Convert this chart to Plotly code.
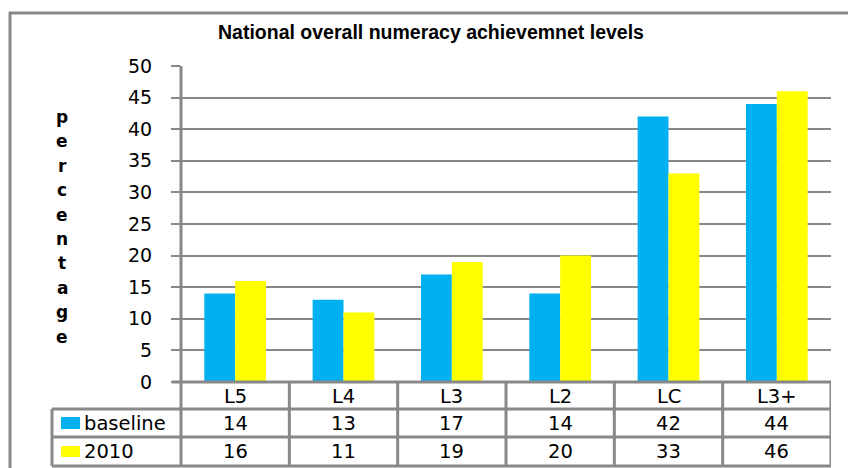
import plotly.graph_objects as go

categories = ["L5", "L4", "L3", "L2", "LC", "L3+"]
baseline = [14, 13, 17, 14, 42, 44]
y2010 = [16, 11, 19, 20, 33, 46]
series_names = ["baseline", "2010"]
colors = ["#00B0F0", "#FFFF00"]
title_text = "National overall numeracy achievemnet levels"
ytitle = "percentage"
tick_vals = [0, 5, 10, 15, 20, 25, 30, 35, 40, 45, 50]

W, H = 848, 468
GRID = "#888888"

def px(x):
    return x / W

def py(y):
    return 1 - y / H

y_zero, y_top = 382, 66
x_left, x_right = 181, 831

fig = go.Figure()
for name, vals, col in zip(series_names, [baseline, y2010], colors):
    fig.add_trace(go.Bar(x=categories, y=vals, name=name, marker=dict(color=col, line=dict(width=0))))

fig.update_layout(
    width=W, height=H, margin=dict(l=0, r=0, t=0, b=0, pad=0, autoexpand=False),
    paper_bgcolor="white", plot_bgcolor="white",
    barmode="group", bargap=0.43, bargroupgap=0,
    showlegend=False,
    xaxis=dict(domain=[px(x_left), px(x_right)], range=[-0.5, 5.5], automargin=False,
               showticklabels=False, showgrid=False, zeroline=False, ticks="",
               showline=False, fixedrange=True),
    yaxis=dict(domain=[py(y_zero), py(y_top)], range=[0, 50], tickvals=tick_vals, automargin=False,
               showgrid=True, gridcolor=GRID, gridwidth=2, zeroline=False,
               ticks="outside", ticklen=9, tickwidth=2, tickcolor=GRID,
               ticklabelstandoff=15,
               tickfont=dict(family="DejaVu Sans", size=19, color="black"),
               showline=False, fixedrange=True),
)

shapes = []
# outer frame: top and left edges (right/bottom fall outside the picture)
shapes.append(dict(type="line", xref="paper", yref="paper", x0=px(9), x1=px(852), y0=py(13), y1=py(13),
                   line=dict(color=GRID, width=3)))
shapes.append(dict(type="line", xref="paper", yref="paper", x0=px(10), x1=px(10), y0=py(12), y1=py(476),
                   line=dict(color=GRID, width=3)))
# y-axis line extending through the table
shapes.append(dict(type="line", xref="paper", yref="paper", x0=px(x_left), x1=px(x_left), y0=py(y_top), y1=py(466),
                   line=dict(color=GRID, width=3)))
# zero line
shapes.append(dict(type="line", xref="paper", yref="paper", x0=px(172), x1=px(x_right), y0=py(y_zero), y1=py(y_zero),
                   line=dict(color=GRID, width=3)))
# table horizontal lines
for yy in [409, 437, 466]:
    shapes.append(dict(type="line", xref="paper", yref="paper", x0=px(x_left), x1=px(x_right), y0=py(yy), y1=py(yy),
                       line=dict(color=GRID, width=3)))
    shapes.append(dict(type="line", xref="paper", yref="paper", x0=px(52), x1=px(x_left), y0=py(yy), y1=py(yy),
                       line=dict(color=GRID, width=3)))
shapes.append(dict(type="line", xref="paper", yref="paper", x0=px(52), x1=px(52), y0=py(409), y1=py(466),
                   line=dict(color=GRID, width=3)))
# table vertical dividers at category boundaries
for i in range(len(categories)):
    xb = i + 0.5
    shapes.append(dict(type="line", xref="x", yref="paper", x0=xb, x1=xb, y0=py(y_zero), y1=py(466),
                       line=dict(color=GRID, width=3)))
# legend keys
key_rows = [(417, 429), (446, 457)]
for (y0, y1), col in zip(key_rows, colors):
    shapes.append(dict(type="rect", xref="paper", yref="paper", x0=px(61), x1=px(80), y0=py(y1), y1=py(y0),
                       fillcolor=col, line=dict(width=0)))

annotations = []
annotations.append(dict(text="<b>" + title_text + "</b>", xref="paper", yref="paper", x=px(431), y=py(32),
                        xanchor="center", yanchor="middle", showarrow=False,
                        font=dict(family="Liberation Sans", size=19.5, color="black")))
for i, ch in enumerate(ytitle):
    annotations.append(dict(text="<b>" + ch + "</b>", xref="paper", yref="paper", x=px(62), y=py(117 + i * 24.4),
                            xanchor="center", yanchor="middle", showarrow=False,
                            font=dict(family="DejaVu Sans", size=17, color="black")))
tfont = dict(family="DejaVu Sans", size=19.5, color="black")
for c in categories:
    annotations.append(dict(text=c, xref="x", yref="paper", x=c, y=py(396), xanchor="center", yanchor="middle",
                            showarrow=False, font=tfont))
row_y = [423, 451]
for name, vals, ry in zip(series_names, [baseline, y2010], row_y):
    annotations.append(dict(text=name, xref="paper", yref="paper", x=px(82), y=py(ry), xanchor="left",
                            yanchor="middle", showarrow=False, font=tfont))
    for c, v in zip(categories, vals):
        annotations.append(dict(text=str(v), xref="x", yref="paper", x=c, y=py(ry), xanchor="center",
                                yanchor="middle", showarrow=False, font=tfont))

fig.update_layout(shapes=shapes, annotations=annotations)
fig.write_html("out.html", config={"displayModeBar": False},
               post_script="document.body.style.margin='0';document.body.style.overflow='hidden';")
